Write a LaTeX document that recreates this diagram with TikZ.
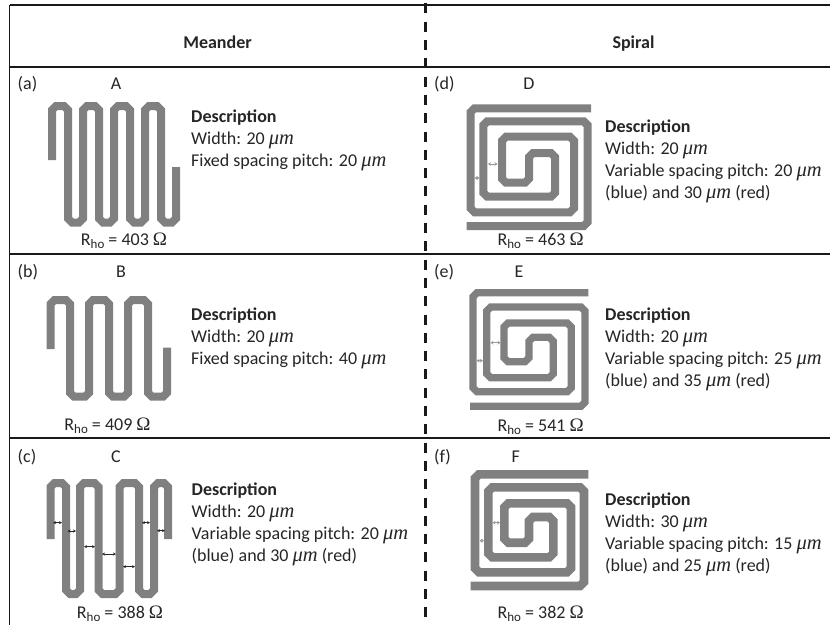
\documentclass[tikz,border=0pt]{standalone}
\usepackage{fontspec}
\setmainfont{Carlito}
\newfontfamily\symf{Liberation Serif}
\usetikzlibrary{calc,arrows.meta}
\newcommand\um{{\symf\itshape\fontsize{20.5}{22}\selectfont μm}}
\newcommand\ohmsym{{\symf\fontsize{19}{22}\selectfont Ω}}
\newcommand\rhoval[1]{R\raisebox{-3pt}{\fontsize{13}{14}\selectfont ho} = #1 \ohmsym}
\newcommand\wire[6]{%
  \draw[trace,line width=#1] (#2,#3)
    \foreach \x/\y [remember=\x as \px (initially #2), remember=\y as \py (initially #3)] in {#4}
      { -- ($(\px,\py)!4pt!(\x,\y)$) -- ($(\x,\y)!4pt!(\px,\py)$) }
    -- (#5,#6);}
\tikzset{
  trace/.style={draw=black!50,line join=miter,line cap=butt},
  rule/.style={draw=black!90,line width=2pt},
  thinrule/.style={draw=black!90,line width=1.3pt},
  divider/.style={draw=black!90,line width=2.6pt,dash pattern=on 10pt off 8.3pt},
  txt/.style={inner sep=0pt,text=black!85,font=\fontsize{18}{22}\selectfont},
  head/.style={txt,font=\fontsize{18}{20}\selectfont\bfseries,anchor=base},
  tag/.style={txt,anchor=base west},
  letter/.style={txt,anchor=base},
  rval/.style={txt,anchor=base},
  descr/.style={txt,anchor=north west,align=left},
  gap/.style={draw=black!85,line width=0.7pt,<->,>={Stealth[length=3pt,width=3pt]}},
  gapgrey/.style={draw=black!40,line width=0.7pt,<->,>={Stealth[length=3pt,width=3.6pt]}},
}
\newcommand\dtitle{\textbf{Description}}
\begin{document}
\begin{tikzpicture}[x=1pt,y=-1pt]
\useasboundingbox[fill=white] (0,0) rectangle (830,625);
% table rules
\coordinate (tl) at (9.5,5);
\coordinate (tr) at (830,5);
\coordinate (bl) at (9.5,625);
\coordinate (h1) at (9.5,66.5); \coordinate (h2) at (830,66.5);
\coordinate (r1) at (9.5,253.5); \coordinate (r2) at (830,253.5);
\coordinate (s1) at (9.5,438); \coordinate (s2) at (830,438);
\coordinate (dt) at (425.5,3.4); \coordinate (db) at (425.5,625);
\draw[thinrule] (tl) -- (tr);
\draw[thinrule] (tl) -- (bl);
\draw[rule] (h1) -- (h2);
\draw[rule] (r1) -- (r2);
\draw[rule] (s1) -- (s2);
\draw[divider] (dt) -- (db);
% headers
\node[head] (hm) at (217.5,48) {Meander};
\node[head] (hs) at (633.5,48) {Spiral};
% tags
\node[tag] (ta) at (17.5,89) {(a)};
\node[letter] (la) at (116,89) {A};
\node[tag] (td) at (434,89) {(d)};
\node[letter] (ld) at (529,89) {D};
\node[tag] (tb) at (17.5,277) {(b)};
\node[letter] (lb) at (121,277) {B};
\node[tag] (te) at (434,277) {(e)};
\node[letter] (le) at (519,277) {E};
\node[tag] (tc) at (17.5,462) {(c)};
\node[letter] (lc) at (116,462) {C};
\node[tag] (tf) at (434,462) {(f)};
\node[letter] (lf) at (515.7,462) {F};
% R values
\node[rval] (ra) at (124,245) {\rhoval{403}};
\node[rval] (rb) at (107.5,430) {\rhoval{409}};
\node[rval] (rc) at (120,618) {\rhoval{388}};
\node[rval] (rd) at (540.7,245) {\rhoval{463}};
\node[rval] (re) at (540.7,431.5) {\rhoval{541}};
\node[rval] (rf) at (540.7,618) {\rhoval{382}};
% descriptions
\node[descr] (da) at (191,110) {\dtitle\\Width: 20 \um\\Fixed spacing pitch: 20 \um};
\node[descr] (db2) at (191,308) {\dtitle\\Width: 20 \um\\Fixed spacing pitch: 40 \um};
\node[descr] (dc) at (191.5,483) {\dtitle\\Width: 20 \um\\Variable spacing pitch: 20 \um\\(blue) and 30 \um{} (red)};
\node[descr] (dd) at (605,120) {\dtitle\\Width: 20 \um\\Variable spacing pitch: 20 \um\\(blue) and 30 \um{} (red)};
\node[descr] (de) at (605,308) {\dtitle\\Width: 20 \um\\Variable spacing pitch: 25 \um\\(blue) and 35 \um{} (red)};
\node[descr] (df) at (605,493) {\dtitle\\Width: 30 \um\\Variable spacing pitch: 15 \um\\(blue) and 25 \um{} (red)};
% meanders
\wire{8}{52}{160}{52/106,68/106,68/222.5,83/222.5,83/106,99/106,99/222.5,114/222.5,114/106,130/106,130/222.5,145/222.5,145/106,161/106,161/222.5,176/222.5,176/167}{176}{167}
\wire{8}{50.5}{349}{50.5/300,70/300,70/396.7,89/396.7,89/300,109/300,109/396.7,128/396.7,128/300,148/300,148/396.7,167/396.7,167/347.7}{167}{347.7}
\wire{8}{50.5}{539}{50.5/483,66/483,66/594,80/594,80/483,98.5/483,98.5/594,119.5/594,119.5/483,139/483,139/594,154/594,154/483,168/483,168/539}{168}{539}
% spirals
\wire{8}{591}{108.3}{470.5/108.3,470.5/212.3,574/212.3,574/136.7,502/136.7,502/182.7,529/182.7,529/153,555/153,555/196.7,483.3/196.7,483.3/121.3,587.7/121.3,587.7/226,466.7/226}{466.7}{226}
\wire{7.2}{588.3}{292.7}{473/292.7,473/391.7,571.3/391.7,571.3/323,504/323,504/361.7,529/361.7,529/337.3,553.3/337.3,553.3/377.7,486.7/377.7,486.7/307,585/307,585/406.3,470/406.3}{470}{406.3}
\wire{8.6}{588.3}{474.3}{475/474.3,475/572.3,571/572.3,571/503.3,504.3/503.3,504.3/542.7,529/542.7,529/517,553.3/517,553.3/557.3,488.3/557.3,488.3/487.3,584/487.3,584/586,470.7/586}{470.7}{586}
% pitch markers, meander C
\coordinate (c1a) at (53,522.7); \coordinate (c1b) at (62,522.7);
\coordinate (c2a) at (67.5,531); \coordinate (c2b) at (76,531);
\coordinate (c3a) at (84,546.7); \coordinate (c3b) at (95,546.7);
\coordinate (c4a) at (102,554); \coordinate (c4b) at (116,554);
\coordinate (c5a) at (123,566.7); \coordinate (c5b) at (135,566.7);
\coordinate (c6a) at (142,522.7); \coordinate (c6b) at (150,522.7);
\coordinate (c7a) at (157,530.7); \coordinate (c7b) at (165,530.7);
\draw[gap] (c1a) -- (c1b);
\draw[gap] (c2a) -- (c2b);
\draw[gap] (c3a) -- (c3b);
\draw[gap] (c4a) -- (c4b);
\draw[gap] (c5a) -- (c5b);
\draw[gap] (c6a) -- (c6b);
\draw[gap] (c7a) -- (c7b);
% pitch markers, spirals
\coordinate (p1a) at (488,164); \coordinate (p1b) at (497.5,164);
\coordinate (p2a) at (474.5,178); \coordinate (p2b) at (479.5,178);
\coordinate (p3a) at (490.5,342.7); \coordinate (p3b) at (500.5,342.7);
\coordinate (p4a) at (476.5,360.7); \coordinate (p4b) at (483,360.7);
\coordinate (p5a) at (492.5,522.7); \coordinate (p5b) at (500,522.7);
\coordinate (p6a) at (479.5,540.7); \coordinate (p6b) at (484,540.7);
\draw[gapgrey] (p1a) -- (p1b);
\draw[gapgrey] (p2a) -- (p2b);
\draw[gapgrey] (p3a) -- (p3b);
\draw[gapgrey] (p4a) -- (p4b);
\draw[gapgrey] (p5a) -- (p5b);
\draw[gapgrey] (p6a) -- (p6b);
\end{tikzpicture}
\end{document}
